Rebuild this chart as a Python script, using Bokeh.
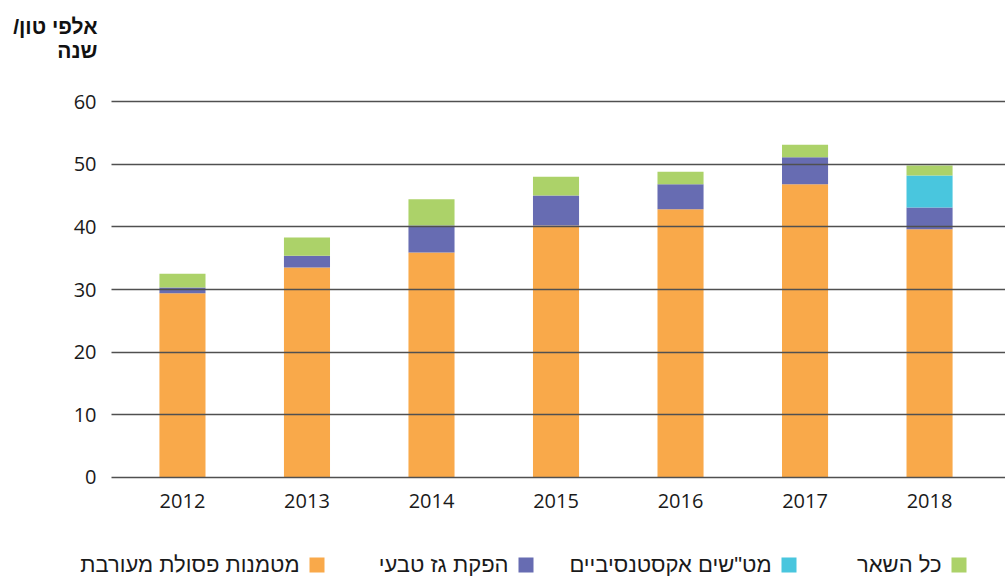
from bokeh.plotting import figure
from bokeh.layouts import column, row
from bokeh.models import ColumnDataSource, FixedTicker, Range1d
from bokeh.core.properties import value
from bokeh.embed import file_html
from bokeh.resources import INLINE

years = ["2012", "2013", "2014", "2015", "2016", "2017", "2018"]
landfill = [29.4, 33.5, 35.9, 40.2, 42.8, 46.8, 39.6]
gas = [0.9, 1.9, 4.3, 4.8, 4.0, 4.3, 3.5]
wwtp = [0.0, 0.0, 0.0, 0.0, 0.0, 0.0, 5.1]
other = [2.2, 2.9, 4.2, 3.0, 2.0, 2.0, 1.6]

series_names = ["landfill", "gas", "wwtp", "other"]
series_labels = ["מטמנות פסולת מעורבת", "הפקת גז טבעי", "מט\"שים אקסטנסיביים", "כל השאר"]
colors = ["#F9A94A", "#676CB2", "#49C6DE", "#ACD269"]
y_ticks = [0, 10, 20, 30, 40, 50, 60]
title_lines = ["/אלפי טון", "שנה"]

HEB = "Liberation Sans"
NUM = "Open Sans"

W = 1005
H_TITLE, H_MAIN, H_LEG = 64, 464, 48
FL, FT, FB = 111, 100, 478   # frame left/top/bottom in page pixels
top_main = H_TITLE
top_leg = H_TITLE + H_MAIN


def page_fig(h, top):
    f = figure(width=W, height=h, x_range=Range1d(0, W), y_range=Range1d(top + h, top),
               output_backend="svg", toolbar_location=None, min_border=0)
    f.axis.visible = False
    f.grid.visible = False
    f.outline_line_color = None
    return f


# ---- title figure (data coords == page pixels) ----
tfig = page_fig(H_TITLE, 0)
tfig.text(x=[97, 97], y=[26, 50], text=title_lines, text_font=value(HEB),
          text_font_style="bold", text_font_size="21px", text_align="right",
          text_baseline="middle", text_color="#111111")

# ---- main chart ----
x = list(range(len(years)))
src = ColumnDataSource(dict(x=x, landfill=landfill, gas=gas, wwtp=wwtp, other=other))
p = figure(width=W, height=H_MAIN, x_range=Range1d(-0.570, 6.61), y_range=Range1d(-0.16, 60.16),
           output_backend="svg", toolbar_location=None,
           min_border_left=FL, min_border_right=0, min_border_top=FT - top_main,
           min_border_bottom=top_leg - FB)
p.vbar_stack(series_names, x="x", width=0.37, color=colors, line_color=None, source=src)
p.outline_line_color = None
p.xgrid.visible = False
p.ygrid.ticker = FixedTicker(ticks=y_ticks)
p.ygrid.grid_line_color = "#505050"
p.ygrid.grid_line_width = 1.3
p.ygrid.level = "annotation"
p.yaxis.ticker = FixedTicker(ticks=y_ticks)
p.xaxis.ticker = FixedTicker(ticks=x)
p.xaxis.major_label_overrides = {i: y for i, y in enumerate(years)}
for ax in [p.xaxis[0], p.yaxis[0]]:
    ax.axis_line_color = None
    ax.major_tick_line_color = None
    ax.minor_tick_line_color = None
    ax.major_label_text_font = NUM
    ax.major_label_text_font_size = "20px"
    ax.major_label_text_color = "#1a1a1a"
p.yaxis.major_label_standoff = 9
p.xaxis.major_label_standoff = 9

# ---- legend figure (RTL: swatch right of its text) ----
lfig = page_fig(H_LEG, top_leg)
sq_left = [309, 518, 781, 951]
ly = 564
lfig.rect(x=[s + 7.5 for s in sq_left], y=[ly + 0.5] * 4, width=15, height=15, color=colors, line_color=None)
lfig.text(x=[s - 10 for s in sq_left], y=[ly] * 4, text=series_labels, text_font=value(HEB),
          text_font_size="22px", text_align="right", text_baseline="middle", text_color="#1a1a1a")

layout = column(row(tfig), p, row(lfig), spacing=0)
open("out.html", "w").write(file_html(layout, INLINE))
